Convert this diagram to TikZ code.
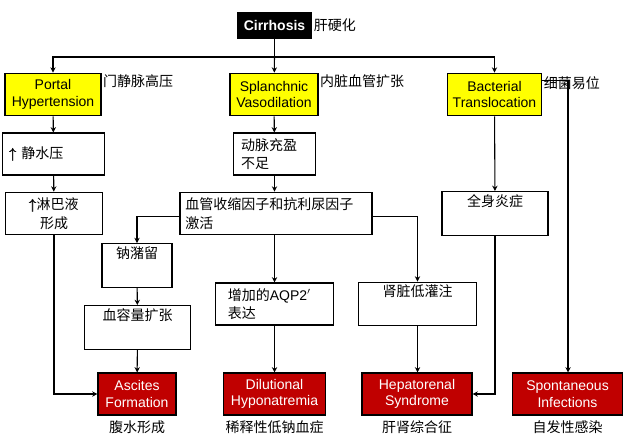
\documentclass[tikz,border=0pt]{standalone}
\usepackage{amsmath}
\usepackage{fontspec}
\setmainfont{Liberation Sans}
\newfontfamily\cjk{Noto Sans CJK SC}
\usetikzlibrary{arrows.meta}
\definecolor{ylw}{RGB}{255,255,0}
\definecolor{rd}{RGB}{192,0,0}
\begin{document}
\begin{tikzpicture}[x=0.75pt,y=-0.75pt,
  box/.style={draw,thick,inner sep=2pt,font=\fontsize{10.5}{12.5}\selectfont,align=center},
  wbox/.style={box,fill=white,font=\cjk\fontsize{10.5}{14}\selectfont,align=left},
  ybox/.style={box,fill=ylw},
  rbox/.style={box,fill=rd,text=white},
  note/.style={font=\cjk\fontsize{10.5}{12}\selectfont,inner sep=1pt},
  arr/.style={thick,-{Stealth[length=4pt,width=4pt]}},
  ln/.style={thick}]
\useasboundingbox (0,0) rectangle (641,442);

\node[box,fill=black,text=white,font=\bfseries\fontsize{10.5}{12}\selectfont,minimum width=56pt,minimum height=20pt] (cir) at (274.5,25.5) {Cirrhosis};
\node[note,anchor=west] at (cir.east) {肝硬化};

\node[ybox,minimum width=72pt,minimum height=32pt] (portal) at (53,94.5) {Portal\\Hypertension};
\node[ybox,minimum width=66pt,minimum height=32pt] (splan) at (274,94.5) {Splanchnic\\Vasodilation};
\node[ybox,minimum width=71pt,minimum height=32pt] (bact) at (494.5,94.5) {Bacterial\\Translocation};
\node[note,anchor=north west] at (portal.north east) {门静脉高压};
\node[note,anchor=north west] at (splan.north east) {内脏血管扩张};
\node[note,anchor=north west] at ([yshift=-2pt]bact.north east) {细菌易位};

\node[wbox,minimum width=76pt,minimum height=31.5pt,text width=66pt] (hydro) at (53.5,154) {$\pmb\uparrow$ 静水压\\[6pt]};
\node[wbox,minimum width=62pt,minimum height=31.5pt,text width=50pt] (arter) at (274.5,154) {动脉充盈\\不足};
\node[wbox,minimum width=73pt,minimum height=32pt,align=center] (lymph) at (54,213.5) {$\pmb\uparrow$淋巴液\\形成};
\node[wbox,minimum width=144pt,minimum height=32pt,text width=136pt] (vaso) at (276,213.5) {血管收缩因子和抗利尿因子\\激活};
\node[wbox,minimum width=79.5pt,minimum height=32pt,align=center] (sirs) at (495,213.5) {全身炎症\\[6pt]};
\node[wbox,minimum width=52.5pt,minimum height=32pt,align=center] (sodium) at (137,265.5) {钠潴留\\[6pt]};
\node[wbox,minimum width=89pt,minimum height=31.5pt,text width=70pt] (aqp) at (274.5,304) {增加的{\rmfamily AQP2$^{\prime}$}\\表达};
\node[wbox,minimum width=89pt,minimum height=31.5pt,align=center] (renal) at (417.5,304) {肾脏低灌注\\[6pt]};
\node[wbox,minimum width=80pt,minimum height=32pt,align=center] (volume) at (137.5,327.5) {血容量扩张\\[6pt]};

\node[rbox,minimum width=58.5pt,minimum height=31.5pt] (ascites) at (137,394) {Ascites\\Formation};
\node[rbox,minimum width=76pt,minimum height=31.5pt] (dilut) at (274.5,394) {Dilutional\\Hyponatremia};
\node[rbox,minimum width=82.5pt,minimum height=31.5pt] (hepat) at (417,394) {Hepatorenal\\Syndrome};
\node[rbox,minimum width=82pt,minimum height=31.5pt] (spont) at (567.5,394) {Spontaneous\\Infections};
\node[note,anchor=north] at ([yshift=-3pt]ascites.south) {腹水形成};
\node[note,anchor=north] at ([yshift=-3pt]dilut.south) {稀释性低钠血症};
\node[note,anchor=north] at ([yshift=-3pt]hepat.south) {肝肾综合征};
\node[note,anchor=north] at ([yshift=-3pt]spont.south) {自发性感染};

% top branching
\coordinate (top) at (274.5,57);
\draw[ln] (cir) -- (top);
\draw[arr] (top) -| (portal);
\draw[arr] (top) -- (splan);
\draw[arr] (top) -| (bact);
% left column
\draw[arr] (portal) -- (hydro);
\draw[arr] (hydro) -- (lymph);
\draw[arr] (lymph.south) |- (ascites.west);
% middle
\draw[arr] (splan) -- (arter);
\draw[arr] (arter) -- (vaso.north -| arter);
\draw[arr] ([yshift=-2pt]vaso.west) -| (sodium);
\draw[arr] (sodium) -- (volume);
\draw[arr] (volume) -- (ascites);
\draw[arr] (vaso.south -| dilut) -- (aqp.north -| dilut);
\draw[arr] (aqp.south -| dilut) -- (dilut);
\draw[arr] ([yshift=-2pt]vaso.east) -| (renal);
\draw[arr] (renal) -- (hepat.north -| renal);
% right
\draw[arr] (bact) -- (sirs);
\draw[arr] (sirs.south) |- (hepat.east);
\draw[arr] ([yshift=-6pt]bact.north east) -| (spont.north -| 568,0);
\end{tikzpicture}
\end{document}
